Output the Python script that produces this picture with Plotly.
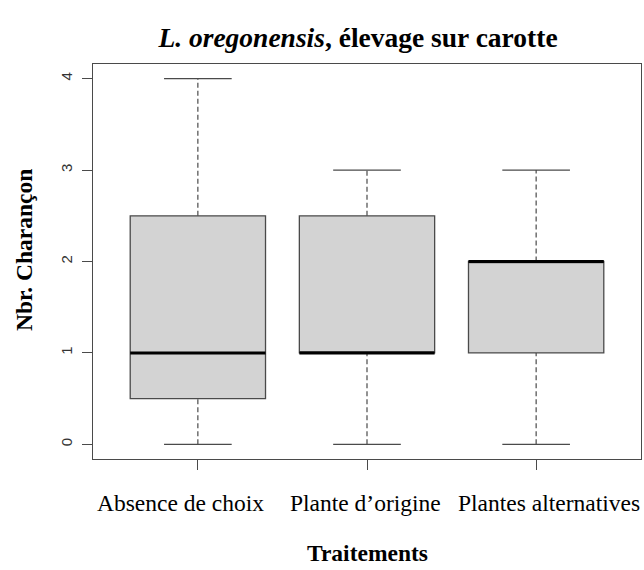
import plotly.graph_objects as go

# ---- data ----
categories = ["Absence de choix", "Plante d\u2019origine", "Plantes alternatives"]
positions = [1, 2, 3]
mins = [0, 0, 0]
q1s = [0.5, 1, 1]
medians = [1, 1, 2]
q3s = [2.5, 2.5, 2]
maxs = [4, 3, 3]
y_ticks = [0, 1, 2, 3, 4]

# ---- style ----
BOX_W = 0.8
STAPLE_W = 0.4
EDGE = "#4a4a4a"
FILL = "#d3d3d3"
SERIF = "Liberation Serif, Times New Roman, serif"
SANS = "Liberation Sans, Arial, sans-serif"
LABEL_SHIFTS = [-17, -2, 13]   # horizontal nudges of category labels, px

FIG_W, FIG_H = 644, 570
PL, PR, PT, PB = 93, 641, 64, 459          # plot box in pixels
PW, PH = PR - PL, PB - PT

fig = go.Figure()

# boxes (no whiskers; whiskers drawn dashed below)
fig.add_trace(go.Box(
    x=positions, q1=q1s, median=medians, q3=q3s,
    lowerfence=q1s, upperfence=q3s,
    width=BOX_W, fillcolor=FILL,
    line=dict(color=EDGE, width=1.3),
    whiskerwidth=0, boxpoints=False, hoverinfo="skip", showlegend=False,
))

# whiskers (dashed)
wx, wy = [], []
for p, lo, a, b, hi in zip(positions, mins, q1s, q3s, maxs):
    wx += [p, p, None, p, p, None]
    wy += [lo, a, None, b, hi, None]
fig.add_trace(go.Scatter(x=wx, y=wy, mode="lines",
                         line=dict(color=EDGE, width=1.2, dash="5px,3px"),
                         hoverinfo="skip", showlegend=False))

# staples
sx, sy = [], []
for p, lo, hi in zip(positions, mins, maxs):
    sx += [p - STAPLE_W / 2, p + STAPLE_W / 2, None, p - STAPLE_W / 2, p + STAPLE_W / 2, None]
    sy += [lo, lo, None, hi, hi, None]
fig.add_trace(go.Scatter(x=sx, y=sy, mode="lines",
                         line=dict(color=EDGE, width=1.3),
                         hoverinfo="skip", showlegend=False))

# medians (thick black)
mx, my = [], []
for p, m in zip(positions, medians):
    mx += [p - BOX_W / 2, p + BOX_W / 2, None]
    my += [m, m, None]
fig.add_trace(go.Scatter(x=mx, y=my, mode="lines",
                         line=dict(color="black", width=3),
                         hoverinfo="skip", showlegend=False))

fig.update_xaxes(
    range=[0.38, 3.62], tickvals=positions, showticklabels=False,
    ticks="outside", ticklen=10, tickcolor=EDGE, tickwidth=1.2,
    showgrid=False, zeroline=False, showline=True, mirror=True,
    linecolor=EDGE, linewidth=1.3,
)
fig.update_yaxes(
    range=[-0.16, 4.16], tickvals=y_ticks, ticktext=[str(v) for v in y_ticks],
    tickangle=-90, ticks="outside", ticklen=10, tickcolor=EDGE, tickwidth=1.2,
    showgrid=False, zeroline=False, showline=True, mirror=True,
    linecolor=EDGE, linewidth=1.3,
    tickfont=dict(family=SANS, size=15, color="#333"),
    ticklabelstandoff=4,
)

annotations = [
    dict(text="<b>Nbr. Charançon</b>", textangle=-90,
         xref="paper", yref="paper", x=(24 - PL) / PW, y=(PB - 250) / PH,
         xanchor="center", yanchor="middle", showarrow=False,
         font=dict(family=SERIF, size=23.5, color="black")),
    dict(text="<b>Traitements</b>",
         xref="paper", yref="paper", x=0.5, y=-(553 - PB) / PH,
         xanchor="center", yanchor="middle", showarrow=False,
         font=dict(family=SERIF, size=23.5, color="black")),
]
for cat, p, dx in zip(categories, positions, LABEL_SHIFTS):
    annotations.append(dict(
        text=cat, x=p, xref="x", y=-(503 - PB) / PH, yref="paper",
        xanchor="center", yanchor="middle", xshift=dx, showarrow=False,
        font=dict(family=SERIF, size=23.5, color="black")))

fig.update_layout(
    width=FIG_W, height=FIG_H,
    margin=dict(l=PL, r=FIG_W - PR, t=PT, b=FIG_H - PB),
    paper_bgcolor="white", plot_bgcolor="white",
    title=dict(text="<b><i>L. oregonensis</i>, élevage sur carotte</b>",
               font=dict(family=SERIF, size=27.5, color="black"),
               x=(358 - PL) / PW, xref="paper", xanchor="center",
               y=1 - 37 / FIG_H, yref="container", yanchor="middle"),
    annotations=annotations,
)

fig.write_html(
    "out.html",
    config={"displayModeBar": False},
    post_script="document.body.style.margin='0';document.body.style.overflow='hidden';",
)
